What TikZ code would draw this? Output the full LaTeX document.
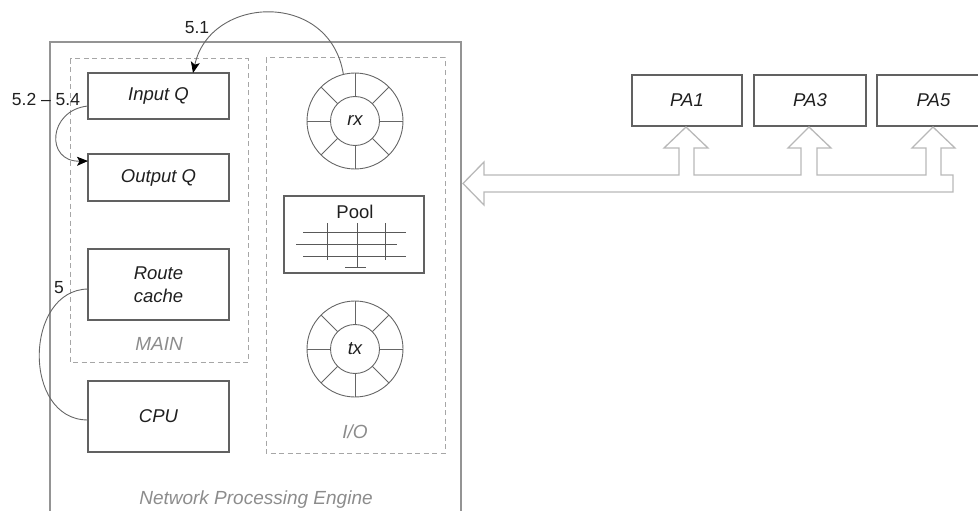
\documentclass[tikz,border=0pt]{standalone}
\usepackage{fontspec}
\setmainfont{Liberation Sans}
\usetikzlibrary{arrows.meta}
\begin{document}
\begin{tikzpicture}[x=1pt,y=-1pt,
  txt/.style={font=\fontsize{18.5}{23}\selectfont\itshape, text=black!88},
  box/.style={draw=black!62, line width=1.1pt, rectangle, inner sep=0pt, outer sep=0pt, txt, align=center},
  grouplbl/.style={font=\fontsize{19}{20}\selectfont\itshape, text=black!45},
  dashbox/.style={draw=black!35, line width=1pt, dash pattern=on 5pt off 3.5pt},
  outerring/.style={circle, draw=black!60, line width=0.9pt, minimum size=96pt, inner sep=0pt, outer sep=0pt},
  innerring/.style={circle, draw=black!60, line width=0.9pt, minimum size=49pt, inner sep=0pt, outer sep=0pt, txt},
  ringline/.style={draw=black!60, line width=0.9pt},
  conn/.style={draw=black!60, line width=0.9pt},
  tip/.style={-{Stealth[length=11pt,width=9pt,inset=2.5pt,black]}},
  numlbl/.style={font=\fontsize{17.5}{20}\selectfont, text=black!88},
  hollow/.style={draw=black!28, line width=1.3pt, line join=miter}
]
\useasboundingbox (0,0) rectangle (978,511);
\clip (0,0) rectangle (978,511);

% outer engine box
\draw[draw=black!42, line width=2pt] (50,42) rectangle (461,530);
\node[grouplbl] (npe) at (256,500) {Network Processing Engine};

% MAIN group
\draw[dashbox] (70,59) rectangle (248,362);
\node[grouplbl] (mainlbl) at (159,344) {MAIN};
\node[box, minimum width=141pt, minimum height=46pt] (inq) at (158.5,96) {Input Q};
\node[box, minimum width=141pt, minimum height=47pt] (outq) at (158.5,177.5) {Output Q};
\node[box, minimum width=141pt, minimum height=71pt] (rc) at (158.5,284.5) {Route\\cache};
\node[box, minimum width=141pt, minimum height=71pt] (cpu) at (158.5,416.5) {CPU};

% I/O group
\draw[dashbox] (266,58) rectangle (445,453);
\node[grouplbl] (iolbl) at (355,432) {I/O};

\node[outerring] (rx) at (355,121) {};
\node[innerring] (rxin) at (rx.center) {rx};
\foreach \a in {0,45,...,315} \draw[ringline] (rxin.\a) -- (rx.\a);

\node[outerring] (tx) at (355,349) {};
\node[innerring] (txin) at (tx.center) {tx};
\foreach \a in {0,45,...,315} \draw[ringline] (txin.\a) -- (tx.\a);

\node[draw=black!62, line width=1.1pt, minimum width=140pt, minimum height=77pt, inner sep=0pt, outer sep=0pt] (pool) at (354,234.5) {};
\node[font=\fontsize{18.5}{20}\selectfont, text=black!88] (poollbl) at (355,212) {Pool};
\begin{scope}[draw=black!65, line width=1pt]
  \draw (303,232) -- (406,232);
  \draw (296,244) -- (397,244);
  \draw (303,256) -- (406,256);
  \draw (327,223) -- (327,260);
  \draw (357,223) -- (357,267);
  \draw (385,223) -- (385,260);
  \draw (345,267) -- (366,267);
\end{scope}

% PA boxes
\node[box, minimum width=110pt, minimum height=51pt] (pa1) at (687,100.5) {PA1};
\node[box, minimum width=112pt, minimum height=51pt] (pa3) at (810,100.5) {PA3};
\node[box, minimum width=113pt, minimum height=51pt] (pa5) at (933.5,100.5) {PA5};

% hollow bus arrow
\draw[hollow] (484,175) -- (679,175) -- (679,148) -- (664,148) -- (686,127) -- (708,148) -- (694,148) -- (694,175)
  -- (801,175) -- (801,148) -- (788,148) -- (809,127) -- (831,148) -- (817,148) -- (817,175)
  -- (926,175) -- (926,148) -- (912,148) -- (933,127) -- (955,148) -- (941,148) -- (941,175)
  -- (953,175) -- (953,192) -- (484,192) -- (484,205) -- (463,183.5) -- (484,162) -- cycle;

% connectors
\draw[conn, tip] (rx.104) .. controls (330,-10) and (210,-5) .. ([xshift=34.5pt]inq.north);
\node[numlbl] (l51) at (197,28) {5.1};

\draw[conn, tip] ([yshift=-10pt]inq.west) .. controls (48,110) and (45,162) .. ([yshift=16.5pt]outq.west);
\node[numlbl] (l52) at (46,99) {5.2 – 5.4};

\draw[conn] ([yshift=-4.5pt]rc.west) .. controls (24,290) and (22,420) .. ([yshift=-3.5pt]cpu.west);
\node[numlbl] (l5) at (59,288) {5};
\end{tikzpicture}
\end{document}
